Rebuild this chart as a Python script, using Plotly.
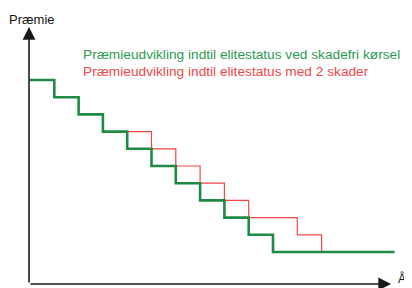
import plotly.graph_objects as go

# Data: years (step index) and premium levels
green_years = [0, 1, 2, 3, 4, 5, 6, 7, 8, 9, 10, 15]
green_premium = [100, 90, 80, 70, 60, 50, 40, 30, 20, 10, 0, 0]
red_years = [0, 1, 2, 3, 5, 6, 7, 8, 9, 11, 12, 15]
red_premium = [100, 90, 80, 70, 60, 50, 40, 30, 20, 10, 0, 0]

green_label = "Præmieudvikling indtil elitestatus ved skadefri kørsel"
red_label = "Præmieudvikling indtil elitestatus med 2 skader"
y_title = "Præmie"
x_title = "Å"

VW, VH = 412, 288   # viewport
OFF = 8             # page body margin
W, H = VW - OFF, VH - OFF
# reference pixel mapping: px = 30 + 24.3*x ; py = 252 - 1.72*y
X_RANGE = [-(30 - OFF) / 24.3, (VW - 30) / 24.3]
Y_RANGE = [-(VH - 252) / 1.72, (252 - OFF) / 1.72]

GREEN = "#1f8a45"
RED = "#f04545"
GREEN_TXT = "#2e9a55"
RED_TXT = "#f04848"

fig = go.Figure()
fig.add_trace(go.Scatter(x=red_years, y=red_premium, mode="lines",
                         line=dict(color=RED, width=1.2, shape="hv"),
                         hoverinfo="skip"))
fig.add_trace(go.Scatter(x=green_years, y=green_premium, mode="lines",
                         line=dict(color=GREEN, width=2.6, shape="hv"),
                         hoverinfo="skip"))

def px2paper(px, py):
    return (px - OFF) / W, 1 - (py - OFF) / H

x0 = -0.04
yb = -18.6
fig.add_annotation(x=x0, y=130.8, ax=x0, ay=yb, xref="x", yref="y",
                   axref="x", ayref="y", showarrow=True, text="",
                   arrowhead=2, arrowsize=1.6, arrowwidth=1.6, arrowcolor="#1a1a1a")
fig.add_annotation(x=14.86, y=yb, ax=x0, ay=yb, xref="x", yref="y",
                   axref="x", ayref="y", showarrow=True, text="",
                   arrowhead=2, arrowsize=1.6, arrowwidth=1.6, arrowcolor="#1a1a1a")

def text(t, px, py, color, size, anchor="left"):
    x, y = px2paper(px, py)
    fig.add_annotation(x=x, y=y, xref="paper", yref="paper", text=t,
                       showarrow=False, xanchor=anchor, yanchor="middle",
                       borderpad=0,
                       font=dict(family="Liberation Sans, Arial", size=size, color=color))

text(y_title, 8, 20, "#111111", 13)
text(x_title, 402, 278, "#111111", 12, anchor="center")
text(green_label, 82, 55, GREEN_TXT, 13.7)
text(red_label, 82, 72, RED_TXT, 13.7)

fig.update_layout(width=W, height=H, margin=dict(l=0, r=0, t=0, b=0),
                  paper_bgcolor="white", plot_bgcolor="white", showlegend=False,
                  xaxis=dict(range=X_RANGE, visible=False, fixedrange=True),
                  yaxis=dict(range=Y_RANGE, visible=False, fixedrange=True))
fig.write_html("out.html", config={"displayModeBar": False})
